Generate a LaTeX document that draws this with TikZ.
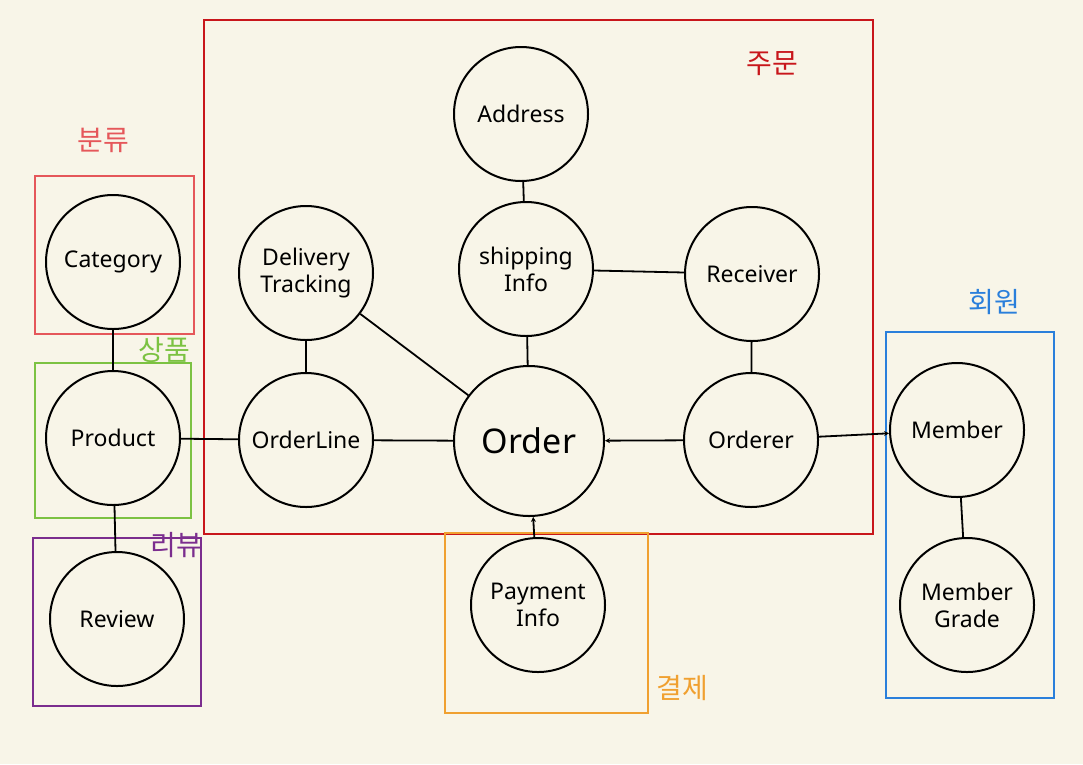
\documentclass[tikz,border=0pt]{standalone}
\usepackage{fontspec}
\setmainfont{Noto Sans}
\newfontfamily\krfont{Noto Sans CJK KR}
\usepackage{xcolor}
\usetikzlibrary{arrows.meta}
\definecolor{paper}{HTML}{F8F5E8}
\definecolor{ordred}{HTML}{C8161B}
\definecolor{catpink}{HTML}{E5575A}
\definecolor{prodgreen}{HTML}{7CC242}
\definecolor{revpurple}{HTML}{7B2D8E}
\definecolor{payorange}{HTML}{F0A030}
\definecolor{memblue}{HTML}{2A7FDB}
\tikzset{
  entity/.style={circle,draw=black,line width=2pt,minimum size=#1,inner sep=0pt,align=center,font=\fontsize{23}{27}\selectfont},
  entity/.default=134pt,
  group/.style={draw=#1,line width=2pt},
  grouplabel/.style={text=#1,font=\krfont\fontsize{28}{28}\selectfont,inner sep=0pt},
  link/.style={line width=1.8pt},
  tip/.style={link,-{Stealth[length=5pt,width=5pt]}}
}
\begin{document}
\begin{tikzpicture}[x=1pt,y=-1pt]
    \fill[paper] (0,0) rectangle (1083,764);
    \useasboundingbox (0,0) rectangle (1083,764);
    % groups
    \draw[group=ordred] (204,20) rectangle (873,534);
    \draw[group=catpink] (35,176) rectangle (194,334);
    \draw[group=prodgreen] (35,363) rectangle (191,518);
    \draw[group=revpurple] (33,538) rectangle (201,706);
    \draw[group=payorange] (445,533) rectangle (648,713);
    \draw[group=memblue] (886,332) rectangle (1054,698);
    \node[grouplabel=ordred] (lblorder) at (772,64) {주문};
    \node[grouplabel=catpink] (lblcat) at (103,140) {분류};
    \node[grouplabel=prodgreen] (lblprod) at (164,350) {상품};
    \node[grouplabel=revpurple] (lblrev) at (176,545) {리뷰};
    \node[grouplabel=payorange] (lblpay) at (682,688) {결제};
    \node[grouplabel=memblue] (lblmem) at (994,302) {회원};
    % entities
    \node[entity] (address) at (521,114) {Address};
    \node[entity] (delivery) at (306,273) {Delivery\\Tracking};
    \node[entity] (shipping) at (526,269) {shipping\\Info};
    \node[entity] (receiver) at (752,274) {Receiver};
    \node[entity] (category) at (113,262) {Category};
    \node[entity] (product) at (113,438) {Product};
    \node[entity] (orderline) at (306,440) {OrderLine};
    \node[entity=150pt,font=\fontsize{34}{36}\selectfont] (order) at (529,441) {Order};
    \node[entity] (orderer) at (751,440) {Orderer};
    \node[entity] (member) at (957,430) {Member};
    \node[entity] (grade) at (967,605) {Member\\Grade};
    \node[entity] (review) at (117,619) {Review};
    \node[entity] (payment) at (538,605) {Payment\\Info};
    % links
    \draw[link] (address) -- (shipping);
    \draw[link] (receiver) -- (shipping);
    \draw[link] (delivery) -- (orderline);
    \draw[link] (delivery) -- (order);
    \draw[link] (shipping) -- (order);
    \draw[link] (receiver) -- (orderer);
    \draw[link] (category) -- (product);
    \draw[link] (product) -- (review);
    \draw[link] (product) -- (orderline);
    \draw[link] (orderline) -- (order);
    \draw[tip] (orderer) -- (order);
    \draw[tip] (orderer) -- (member);
    \draw[tip] (payment) -- (order);
    \draw[link] (member) -- (grade);
  \end{tikzpicture}
\end{document}
